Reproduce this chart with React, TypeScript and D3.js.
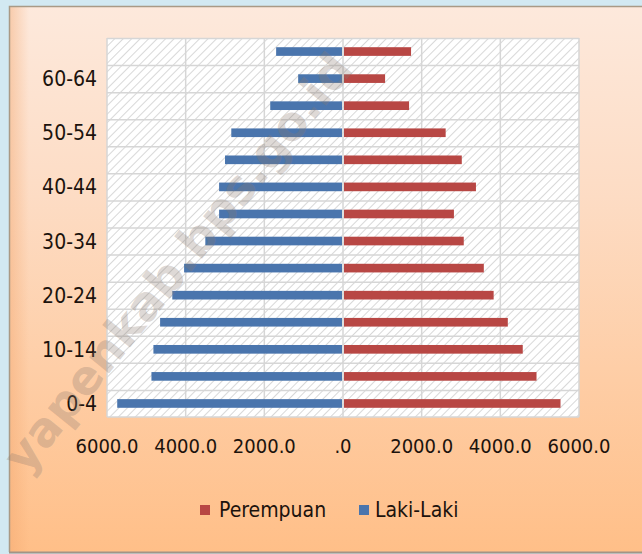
import React from "react";
import * as d3 from "d3";

const ageGroups = ["0-4","5-9","10-14","15-19","20-24","25-29","30-34","35-39","40-44","45-49","50-54","55-59","60-64","65+"];
const shownAgeLabels = ["0-4","10-14","20-24","30-34","40-44","50-54","60-64"];
const lakiLaki = [5740,4870,4820,4650,4340,4040,3500,3150,3150,3000,2840,1850,1140,1700];
const perempuan = [5530,4920,4570,4190,3830,3580,3070,2820,3380,3020,2610,1680,1070,1730];
const xTicks = [-6000,-4000,-2000,0,2000,4000,6000];
const legendItems = [
  { label: "Perempuan", color: "#b84744" },
  { label: "Laki-Laki", color: "#4a75ad" },
];

const W = 642, H = 554;
const plot = { left: 107, right: 579, top: 38, bottom: 417 };
const FONT = "'DejaVu Sans Condensed', 'DejaVu Sans', sans-serif";
const TXT = "#1c130d";

export default function App() {
  const x = d3.scaleLinear().domain([-6000, 6000]).range([plot.left, plot.right]);
  const y = d3.scaleBand<string>().domain([...ageGroups].reverse()).range([plot.top, plot.bottom]);
  const bw = y.bandwidth();
  const barH = bw * 0.32;
  const x0 = x(0);
  const fmt = (v: number) => (v === 0 ? ".0" : Math.abs(v).toFixed(1));
  const bands = y.domain();

  return (
    <svg width={W} height={H} style={{ position: "absolute", left: 0, top: 0 }} xmlns="http://www.w3.org/2000/svg">
      <defs>
        <linearGradient id="bg" x1="0" y1="0" x2="0" y2="1">
          <stop offset="0" stopColor="#fde9dc" />
          <stop offset="0.35" stopColor="#fddcc4" />
          <stop offset="1" stopColor="#ffbf88" />
        </linearGradient>
        <linearGradient id="leftEdge" x1="0" y1="0" x2="1" y2="0">
          <stop offset="0" stopColor="#f2a66e" stopOpacity="0.45" />
          <stop offset="1" stopColor="#f2a66e" stopOpacity="0" />
        </linearGradient>
        <pattern id="hatch" patternUnits="userSpaceOnUse" width="6" height="6" patternTransform="rotate(45)">
          <rect width="6" height="6" fill="#ffffff" />
          <line x1="0" y1="0" x2="0" y2="6" stroke="#cfcfcf" strokeWidth="1.6" />
        </pattern>
      </defs>
      <rect x={0} y={0} width={W} height={H} fill="#d2e9f2" />
      <rect x={9} y={6} width={W - 9} height={546} fill="url(#bg)" />
      <rect x={9} y={6} width={20} height={546} fill="url(#leftEdge)" />
      <path d={`M9.5,552 L9.5,6.5 L${W},6.5`} fill="none" stroke="#a99a86" strokeWidth={1.5} />
      <line x1={9} y1={552.5} x2={W} y2={552.5} stroke="#a29486" strokeWidth={2} />

      <rect x={plot.left} y={plot.top} width={plot.right - plot.left} height={plot.bottom - plot.top} fill="url(#hatch)" />
      {bands.map((g) => (
        <line key={"h" + g} x1={plot.left} x2={plot.right} y1={(y(g) as number) + 0.5} y2={(y(g) as number) + 0.5} stroke="#d6d6d6" strokeWidth={1.5} />
      ))}
      <line x1={plot.left} x2={plot.right} y1={plot.bottom} y2={plot.bottom} stroke="#d6d6d6" strokeWidth={1.5} />
      {xTicks.map((t) => (
        <line key={"v" + t} x1={x(t)} x2={x(t)} y1={plot.top} y2={plot.bottom} stroke="#d6d6d6" strokeWidth={1.5} />
      ))}

      {ageGroups.map((g, i) => {
        const cy = (y(g) as number) + bw / 2;
        return (
          <g key={"b" + g}>
            <rect x={x(-lakiLaki[i])} y={cy - barH / 2} width={x0 - 1 - x(-lakiLaki[i])} height={barH} fill="#4a75ad" />
            <rect x={x0 + 1} y={cy - barH / 2} width={x(perempuan[i]) - x0 - 1} height={barH} fill="#b84744" />
          </g>
        );
      })}

      {shownAgeLabels.map((g) => (
        <text key={"yl" + g} x={97} y={(y(g) as number) + bw / 2} dy="0.36em" textAnchor="end" fontFamily={FONT} fontSize={21} fill={TXT}>{g}</text>
      ))}
      {xTicks.map((t) => (
        <text key={"xl" + t} x={x(t)} y={453} textAnchor="middle" fontFamily={FONT} fontSize={20} fill={TXT}>{fmt(t)}</text>
      ))}

      <g>
        <rect x={200} y={505} width={10} height={10} fill={legendItems[0].color} />
        <text x={219} y={517} fontFamily={FONT} fontSize={21} fill={TXT}>{legendItems[0].label}</text>
        <rect x={359} y={505} width={10} height={10} fill={legendItems[1].color} />
        <text x={375} y={517} fontFamily={FONT} fontSize={21} fill={TXT}>{legendItems[1].label}</text>
      </g>

      <text x={0} y={0} transform="translate(26,476) rotate(-51)" fontFamily="'DejaVu Sans', sans-serif" fontWeight="bold" fontSize={47} fill="#8a7a70" fillOpacity={0.3}>yapenkab.bps.go.id</text>
    </svg>
  );
}
